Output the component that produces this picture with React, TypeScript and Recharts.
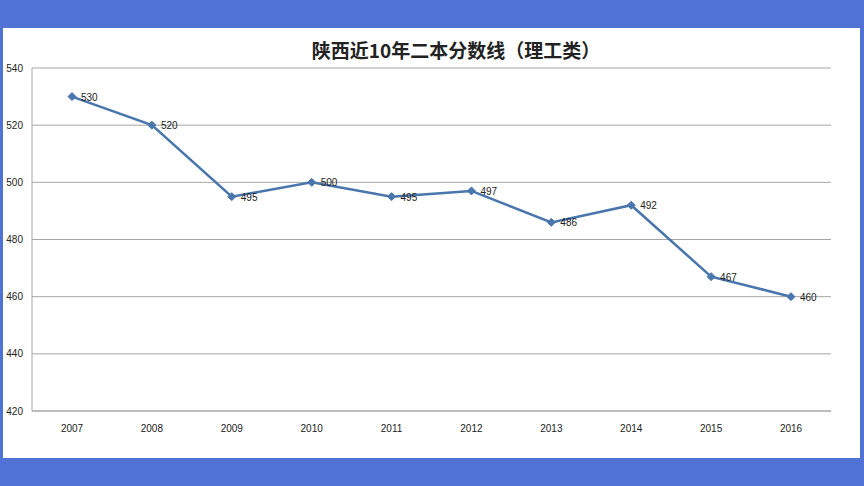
import React from 'react';
import { LineChart, Line, XAxis, YAxis, CartesianGrid, LabelList } from 'recharts';

const years = ['2007', '2008', '2009', '2010', '2011', '2012', '2013', '2014', '2015', '2016'];
const scores = [530, 520, 495, 500, 495, 497, 486, 492, 467, 460];
const yTicks = [420, 440, 460, 480, 500, 520, 540];

const data = years.map((year, i) => ({ year, score: scores[i] }));

const Diamond = (props: any) => {
  const { cx, cy } = props;
  if (cx == null || cy == null) return null;
  const r = 4;
  return (
    <polygon
      points={`${cx},${cy - r} ${cx + r},${cy} ${cx},${cy + r} ${cx - r},${cy}`}
      fill="#4a76ae"
      stroke="#4a76ae"
    />
  );
};

const ValueLabel = (props: any) => {
  const { x, y, value } = props;
  return (
    <text x={x + 9} y={y + 4} fontSize={10} fill="#222" fontFamily="Liberation Sans, sans-serif">
      {value}
    </text>
  );
};

export default function App() {
  return (
    <div
      style={{
        position: 'absolute',
        left: 0,
        top: 0,
        width: 864,
        height: 486,
        background: '#4f72d4',
      }}
    >
      <div
        style={{
          position: 'absolute',
          left: 3,
          top: 28,
          width: 857,
          height: 430,
          background: '#fff',
        }}
      >
        <div
          style={{
            position: 'absolute',
            left: 0,
            width: 906,
            top: 8,
            textAlign: 'center',
            fontFamily: '"Noto Sans CJK SC", sans-serif',
            fontWeight: 'bold',
            fontSize: 19,
            color: '#222',
          }}
        >
          陕西近10年二本分数线（理工类）
        </div>
        <LineChart
          width={857}
          height={430}
          data={data}
          margin={{ top: 40, right: 29, left: 0, bottom: 17 }}
        >
          <CartesianGrid vertical={false} stroke="#a6a6a6" />
          <XAxis
            dataKey="year"
            height={30}
            padding={{ left: 40, right: 40 }}
            tickLine={false}
            axisLine={{ stroke: '#a6a6a6' }}
            tick={{ fontSize: 10, fill: '#222', fontFamily: 'Liberation Sans, sans-serif' }}
            tickMargin={8}
          />
          <YAxis
            width={29}
            domain={[420, 540]}
            ticks={yTicks}
            tickLine={false}
            axisLine={{ stroke: '#a6a6a6' }}
            tick={{ fontSize: 10, fill: '#222', fontFamily: 'Liberation Sans, sans-serif' }}
            tickMargin={3}
          />
          <Line
            type="linear"
            dataKey="score"
            stroke="#4a76ae"
            strokeWidth={2.5}
            dot={<Diamond />}
            activeDot={false}
            isAnimationActive={false}
          >
            <LabelList dataKey="score" content={<ValueLabel />} />
          </Line>
        </LineChart>
      </div>
    </div>
  );
}
